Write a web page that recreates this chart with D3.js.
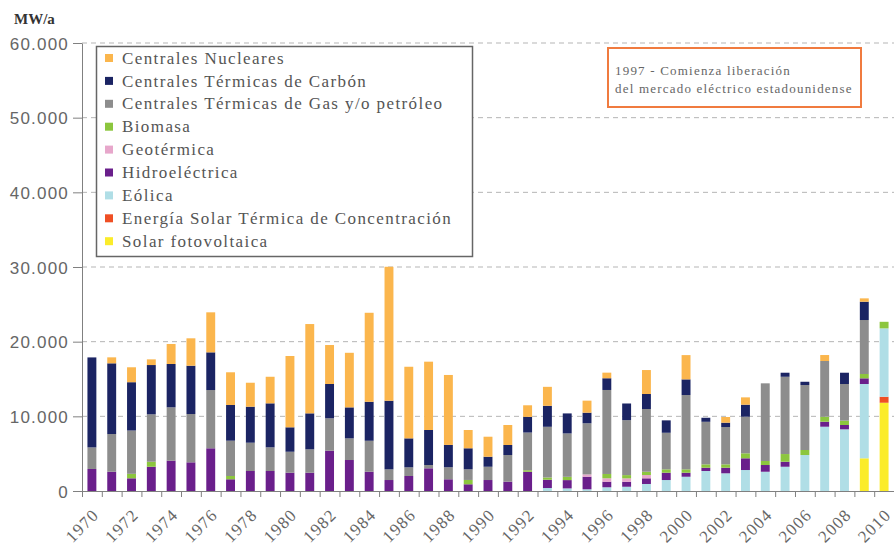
<!DOCTYPE html>
<html>
<head>
<meta charset="utf-8">
<script src="https://cdn.jsdelivr.net/npm/d3@7"></script>
<style>
	body { margin: 0; background: #fff; }
	svg { display: block; font-family: "Liberation Serif", serif; }
	.axis text { fill: #666; font-size: 17px; letter-spacing: 1.2px; }
	.axis path, .axis line { stroke: #808080; }
	.grid line { stroke: #b5b5b5; stroke-dasharray: 5,4; }
</style>
</head>
<body>
<svg id="chart" width="894" height="547"></svg>
<script>

//------------------------------------------------------------------------------
// Data (MW/a, 1970 - 2010)

var years = d3.range(1970, 2011);

var nuclear = [0, 800, 2000, 760, 2680, 3670, 5360, 4380, 3210, 3560,
	9550, 11960, 5220, 7310, 11920, 17940, 9590, 9150, 9370, 2450,
	2680, 2680, 1550, 2540, 0, 1610, 750, 0, 3210, 0,
	3250, 0, 760, 980, 0, 0, 0, 800, 0, 450, 0];
var coal = [12050, 9470, 6470, 6600, 5800, 6470, 5050, 4780, 4820, 5890,
	3270, 4820, 4590, 4150, 5220, 9190, 3880, 4690, 2990, 2810,
	1340, 1340, 2100, 2810, 2680, 1420, 1570, 2230, 2010, 1660,
	2100, 540, 580, 1610, 0, 540, 440, 0, 1510, 2450, 0];
var gas = [2890, 5050, 5800, 6350, 7150, 6470, 7800, 4730, 3790, 3170,
	2810, 3130, 4340, 2900, 4150, 1430, 1160, 440, 1610, 1430,
	1780, 3570, 5050, 6790, 5810, 6850, 11250, 7360, 8400, 4900,
	9950, 5700, 5000, 4900, 10400, 10350, 8700, 7460, 4910, 7230, 0];
var biomass = [0, 0, 600, 670, 0, 0, 0, 440, 0, 0,
	0, 0, 0, 0, 0, 0, 0, 0, 0, 580,
	0, 0, 200, 300, 440, 0, 580, 440, 440, 450,
	450, 450, 450, 670, 540, 1030, 670, 670, 580, 580, 880];
var geothermal = [0, 0, 0, 0, 0, 0, 0, 0, 0, 0,
	0, 0, 0, 0, 0, 0, 0, 0, 0, 0,
	0, 0, 0, 0, 0, 300, 450, 450, 440, 0,
	0, 0, 0, 0, 0, 0, 0, 0, 0, 0, 0];
var hydro = [2950, 2580, 1700, 3250, 4060, 3840, 5720, 1570, 2680, 2680,
	2450, 2450, 5400, 4150, 2580, 1470, 2010, 3040, 1570, 900,
	1470, 1250, 2580, 1110, 1110, 1690, 750, 670, 760, 980,
	540, 440, 750, 1570, 900, 670, 0, 670, 580, 760, 0];
var wind = [0, 0, 0, 0, 0, 0, 0, 0, 0, 0,
	0, 0, 0, 0, 0, 0, 0, 0, 0, 0,
	0, 0, 0, 400, 350, 230, 500, 570, 940, 1470,
	1910, 2680, 2370, 2810, 2580, 3250, 4820, 8610, 8260, 9950, 9160];
var csp = [0, 0, 0, 0, 0, 0, 0, 0, 0, 0,
	0, 0, 0, 0, 0, 0, 0, 0, 0, 0,
	0, 0, 0, 0, 0, 0, 0, 0, 0, 0,
	0, 0, 0, 0, 0, 0, 0, 0, 0, 0, 800];
var pv = [0, 0, 0, 0, 0, 0, 0, 0, 0, 0,
	0, 0, 0, 0, 0, 0, 0, 0, 0, 0,
	0, 0, 0, 0, 0, 0, 0, 0, 0, 0,
	0, 0, 0, 0, 0, 0, 0, 0, 0, 4380, 11820];

var seriesNames = ['Centrales Nucleares', 'Centrales Térmicas de Carbón',
	'Centrales Térmicas de Gas y/o petróleo', 'Biomasa', 'Geotérmica',
	'Hidroeléctrica', 'Eólica', 'Energía Solar Térmica de Concentración',
	'Solar fotovoltaica'];
var seriesValues = [nuclear, coal, gas, biomass, geothermal, hydro, wind, csp, pv];
var seriesColors = ['#fbb64d', '#1b2463', '#8d8d8d', '#8cc63e', '#e7a7cb',
	'#6a1f8b', '#b0dee6', '#ef4f24', '#fbec2a'];

var yTicks = [0, 10000, 20000, 30000, 40000, 50000, 60000];
var note = ['1997 - Comienza liberación', 'del mercado eléctrico estadounidense'];

//------------------------------------------------------------------------------
// Scales

var svg = d3.select('#chart');

var x = d3.scaleBand()
	.domain(years)
	.range([82, 894])
	.paddingInner(0.55)
	.paddingOuter(0.275);

var xTick = d3.scaleLinear()
	.domain([1970, 2011])
	.range([82, 894]);

var y = d3.scaleLinear()
	.domain([0, 60000])
	.range([491, 43]);

var fmt = d3.formatLocale({ decimal: ',', thousands: '.', grouping: [3], currency: ['', ''] })
	.format(',d');

//------------------------------------------------------------------------------
// Grid and axes

svg.append('g')
	.attr('class', 'grid')
	.selectAll('line')
	.data(yTicks.slice(1))
	.join('line')
		.attr('x1', 82)
		.attr('x2', 894)
		.attr('y1', function (d) { return y(d); })
		.attr('y2', function (d) { return y(d); })
;

svg.append('g')
	.attr('class', 'axis')
	.attr('transform', 'translate(82,0)')
	.call(d3.axisLeft(y).tickValues(yTicks).tickFormat(fmt).tickSize(9).tickSizeOuter(0).tickPadding(4))
	.call(function (g) { g.selectAll('text').attr('dy', '0.36em'); })
;

svg.append('g')
	.attr('class', 'axis')
	.attr('transform', 'translate(0,491)')
	.call(d3.axisBottom(xTick).tickValues(d3.range(1970, 2012)).tickFormat('').tickSize(6).tickSizeOuter(0))
;

svg.append('g')
	.attr('class', 'axis')
	.selectAll('text')
	.data(years.filter(function (d) { return d % 2 == 0; }))
	.join('text')
		.attr('text-anchor', 'end')
		.attr('transform', function (d) {
			return 'translate(' + (x(d) + x.bandwidth() / 2 + 8) + ',516) rotate(-45)';
		})
		.text(function (d) { return d; })
;

svg.append('text')
	.attr('x', 14)
	.attr('y', 24)
	.attr('font-size', 15)
	.attr('font-weight', 'bold')
	.attr('fill', '#333')
	.text('MW/a');

//------------------------------------------------------------------------------
// Stacked bars (bottom-up: PV, CSP, eólica, hidro, geo, biomasa, gas, carbón, nuclear)

var stackOrder = [8, 7, 6, 5, 4, 3, 2, 1, 0];
var table = years.map(function (yr, i) {
	var row = { year: yr };
	seriesValues.forEach(function (s, k) { row[k] = s[i]; });
	return row;
});

var stacked = d3.stack().keys(stackOrder)(table);

svg.append('g')
	.selectAll('g')
	.data(stacked)
	.join('g')
		.attr('fill', function (d) { return seriesColors[d.key]; })
	.selectAll('rect')
	.data(function (d) { return d; })
	.join('rect')
		.attr('x', function (d) { return x(d.data.year); })
		.attr('width', x.bandwidth())
		.attr('y', function (d) { return y(d[1]); })
		.attr('height', function (d) { return y(d[0]) - y(d[1]); })
;

//------------------------------------------------------------------------------
// Legend

var legend = svg.append('g');

legend.append('rect')
	.attr('x', 96.5)
	.attr('y', 46.5)
	.attr('width', 376)
	.attr('height', 210)
	.attr('fill', '#fff')
	.attr('stroke', '#666')
	.attr('stroke-width', 1.5);

var items = legend.selectAll('g.item')
	.data(seriesNames)
	.join('g')
		.attr('class', 'item')
		.attr('transform', function (d, i) { return 'translate(105,' + (58 + i * 22.9) + ')'; })
;
items.append('rect')
	.attr('x', 0)
	.attr('y', -4)
	.attr('width', 8)
	.attr('height', 8)
	.attr('fill', function (d, i) { return seriesColors[i]; });
items.append('text')
	.attr('x', 17)
	.attr('dy', '0.33em')
	.attr('font-size', 17)
	.attr('letter-spacing', 1.4)
	.attr('fill', '#555')
	.text(function (d) { return d; });

//------------------------------------------------------------------------------
// Note

svg.append('rect')
	.attr('x', 608)
	.attr('y', 48)
	.attr('width', 253)
	.attr('height', 59)
	.attr('fill', '#fff')
	.attr('stroke', '#f07b3f')
	.attr('stroke-width', 2);

svg.append('g')
	.selectAll('text')
	.data(note)
	.join('text')
		.attr('x', 615)
		.attr('y', function (d, i) { return 75 + i * 18; })
		.attr('font-size', 13)
		.attr('letter-spacing', 1.2)
		.attr('fill', '#666')
		.text(function (d) { return d; })
;

</script>
</body>
</html>
